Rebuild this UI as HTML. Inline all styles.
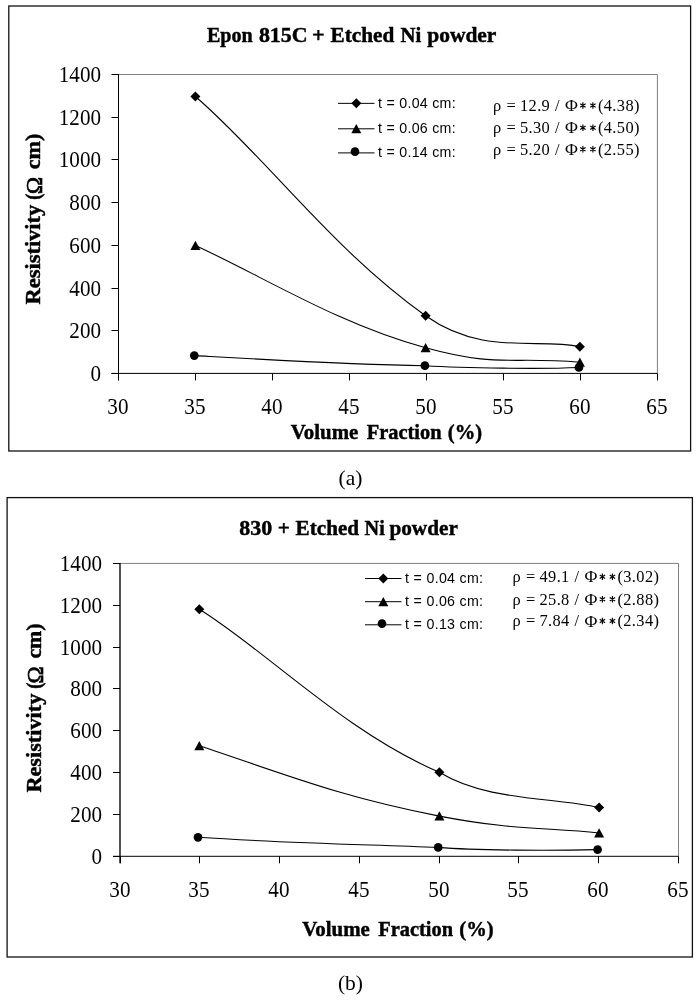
<!DOCTYPE html>
<html><head><meta charset="utf-8"><title>Resistivity vs Volume Fraction</title>
<style>
html,body{margin:0;padding:0;background:#fff;}
body{width:699px;height:1000px;overflow:hidden;font-family:"Liberation Serif",serif;}
svg{display:block;filter:grayscale(1)}
text{fill:#000}
</style></head><body>
<svg width="699" height="1000" viewBox="0 0 699 1000">
<rect width="699" height="1000" fill="#fff"/>
<rect x="8.8" y="6.0" width="681.8000000000001" height="445.0" fill="#fff" stroke="#111" stroke-width="1.3"/>
<path d="M118.5,74.5 H657.4 V373.4" fill="none" stroke="#808080" stroke-width="1"/>
<path d="M118.5,74.0 V380.4" fill="none" stroke="#000" stroke-width="1"/>
<path d="M111.5,373.4 H657.4" fill="none" stroke="#000" stroke-width="1"/>
<path d="M111.5,373.50 H118.5" stroke="#000" stroke-width="1"/>
<text transform="translate(101,380.90) scale(1,1.05)" text-anchor="end" font-family="Liberation Serif, serif" font-size="21.1">0</text>
<path d="M111.5,330.50 H118.5" stroke="#000" stroke-width="1"/>
<text transform="translate(101,337.90) scale(1,1.05)" text-anchor="end" font-family="Liberation Serif, serif" font-size="21.1">200</text>
<path d="M111.5,288.50 H118.5" stroke="#000" stroke-width="1"/>
<text transform="translate(101,295.90) scale(1,1.05)" text-anchor="end" font-family="Liberation Serif, serif" font-size="21.1">400</text>
<path d="M111.5,245.50 H118.5" stroke="#000" stroke-width="1"/>
<text transform="translate(101,252.90) scale(1,1.05)" text-anchor="end" font-family="Liberation Serif, serif" font-size="21.1">600</text>
<path d="M111.5,202.50 H118.5" stroke="#000" stroke-width="1"/>
<text transform="translate(101,209.90) scale(1,1.05)" text-anchor="end" font-family="Liberation Serif, serif" font-size="21.1">800</text>
<path d="M111.5,159.50 H118.5" stroke="#000" stroke-width="1"/>
<text transform="translate(101,166.90) scale(1,1.05)" text-anchor="end" font-family="Liberation Serif, serif" font-size="21.1">1000</text>
<path d="M111.5,117.50 H118.5" stroke="#000" stroke-width="1"/>
<text transform="translate(101,124.90) scale(1,1.05)" text-anchor="end" font-family="Liberation Serif, serif" font-size="21.1">1200</text>
<path d="M111.5,74.50 H118.5" stroke="#000" stroke-width="1"/>
<text transform="translate(101,81.90) scale(1,1.05)" text-anchor="end" font-family="Liberation Serif, serif" font-size="21.1">1400</text>
<path d="M118.50,373.4 V380.4" stroke="#000" stroke-width="1"/>
<text transform="translate(117.90,414) scale(1,1.05)" text-anchor="middle" font-family="Liberation Serif, serif" font-size="21.1">30</text>
<path d="M195.50,373.4 V380.4" stroke="#000" stroke-width="1"/>
<text transform="translate(194.90,414) scale(1,1.05)" text-anchor="middle" font-family="Liberation Serif, serif" font-size="21.1">35</text>
<path d="M272.50,373.4 V380.4" stroke="#000" stroke-width="1"/>
<text transform="translate(271.90,414) scale(1,1.05)" text-anchor="middle" font-family="Liberation Serif, serif" font-size="21.1">40</text>
<path d="M349.50,373.4 V380.4" stroke="#000" stroke-width="1"/>
<text transform="translate(348.90,414) scale(1,1.05)" text-anchor="middle" font-family="Liberation Serif, serif" font-size="21.1">45</text>
<path d="M426.50,373.4 V380.4" stroke="#000" stroke-width="1"/>
<text transform="translate(425.90,414) scale(1,1.05)" text-anchor="middle" font-family="Liberation Serif, serif" font-size="21.1">50</text>
<path d="M503.50,373.4 V380.4" stroke="#000" stroke-width="1"/>
<text transform="translate(502.90,414) scale(1,1.05)" text-anchor="middle" font-family="Liberation Serif, serif" font-size="21.1">55</text>
<path d="M580.50,373.4 V380.4" stroke="#000" stroke-width="1"/>
<text transform="translate(579.90,414) scale(1,1.05)" text-anchor="middle" font-family="Liberation Serif, serif" font-size="21.1">60</text>
<path d="M657.50,373.4 V380.4" stroke="#000" stroke-width="1"/>
<text transform="translate(656.90,414) scale(1,1.05)" text-anchor="middle" font-family="Liberation Serif, serif" font-size="21.1">65</text>
<text transform="translate(207.00,42) scale(1,1.0)" font-family="Liberation Serif, serif" font-weight="bold" stroke="#000" stroke-width="0.45" font-size="21.3" textLength="45.70" lengthAdjust="spacingAndGlyphs">Epon</text>
<text transform="translate(258.90,42) scale(1,1.0)" font-family="Liberation Serif, serif" font-weight="bold" stroke="#000" stroke-width="0.45" font-size="21.3" textLength="48.70" lengthAdjust="spacingAndGlyphs">815C</text>
<text transform="translate(312.10,42) scale(1,1.0)" font-family="Liberation Serif, serif" font-weight="bold" stroke="#000" stroke-width="0.45" font-size="21.3" textLength="12.70" lengthAdjust="spacingAndGlyphs">+</text>
<text transform="translate(330.60,42) scale(1,1.0)" font-family="Liberation Serif, serif" font-weight="bold" stroke="#000" stroke-width="0.45" font-size="21.3" textLength="63.70" lengthAdjust="spacingAndGlyphs">Etched</text>
<text transform="translate(400.60,42) scale(1,1.0)" font-family="Liberation Serif, serif" font-weight="bold" stroke="#000" stroke-width="0.45" font-size="21.3" textLength="20.70" lengthAdjust="spacingAndGlyphs">Ni</text>
<text transform="translate(427.20,42) scale(1,1.0)" font-family="Liberation Serif, serif" font-weight="bold" stroke="#000" stroke-width="0.45" font-size="21.3" textLength="69.20" lengthAdjust="spacingAndGlyphs">powder</text>
<text transform="translate(290.70,438.5) scale(1,1.0)" font-family="Liberation Serif, serif" font-weight="bold" stroke="#000" stroke-width="0.45" font-size="21.3" textLength="67.60" lengthAdjust="spacingAndGlyphs">Volume</text>
<text transform="translate(366.70,438.5) scale(1,1.0)" font-family="Liberation Serif, serif" font-weight="bold" stroke="#000" stroke-width="0.45" font-size="21.3" textLength="74.80" lengthAdjust="spacingAndGlyphs">Fraction</text>
<text transform="translate(447.80,438.5) scale(1,1.0)" font-family="Liberation Serif, serif" font-weight="bold" stroke="#000" stroke-width="0.45" font-size="21.3" textLength="34.30" lengthAdjust="spacingAndGlyphs">(%)</text>
<text transform="translate(40,304.50) rotate(-90) scale(1,1.0)" font-family="Liberation Serif, serif" font-weight="bold" stroke="#000" stroke-width="0.45" font-size="21.3" textLength="99.80" lengthAdjust="spacingAndGlyphs">Resistivity</text>
<text transform="translate(40,199.70) rotate(-90) scale(1,1.0)" font-family="Liberation Serif, serif" font-weight="bold" stroke="#000" stroke-width="0.45" font-size="21.3" textLength="6.20" lengthAdjust="spacingAndGlyphs">(</text>
<text transform="translate(40,169.30) rotate(-90) scale(1,1.0)" font-family="Liberation Serif, serif" font-weight="bold" stroke="#000" stroke-width="0.45" font-size="21.3" textLength="35.60" lengthAdjust="spacingAndGlyphs">cm)</text>
<text transform="translate(41.9,194.30) rotate(-90)" font-family="Liberation Serif, serif" font-size="24" textLength="17.40" lengthAdjust="spacingAndGlyphs" stroke="#000" stroke-width="0.7">Ω</text>
<path d="M195.4,96.5 C266.90,158.26 330.48,247.88 425.6,315.8 C482.21,356.22 537.83,337.58 579.9,346.7" fill="none" stroke="#000" stroke-width="1.1"/>
<path d="M195.4,245.5 C264.02,276.89 337.47,323.79 425.6,347.8 C498.45,367.77 509.26,356.29 579.9,362.3" fill="none" stroke="#000" stroke-width="1.1"/>
<path d="M194.3,355.6 C271.17,359.95 348.03,364.55 424.9,365.7 C463.98,368.20 542.37,369.18 578.9,367.5" fill="none" stroke="#000" stroke-width="1.1"/>
<path d="M190.4,96.5 L195.4,91.5 L200.4,96.5 L195.4,101.5Z" fill="#000"/>
<path d="M420.6,315.8 L425.6,310.8 L430.6,315.8 L425.6,320.8Z" fill="#000"/>
<path d="M574.9,346.7 L579.9,341.7 L584.9,346.7 L579.9,351.7Z" fill="#000"/>
<path d="M190.40,250.00 L195.40,240.70 L200.40,250.00Z" fill="#000"/>
<path d="M420.60,352.30 L425.60,343.00 L430.60,352.30Z" fill="#000"/>
<path d="M574.90,366.80 L579.90,357.50 L584.90,366.80Z" fill="#000"/>
<circle cx="194.3" cy="355.6" r="4.35" fill="#000"/>
<circle cx="424.9" cy="365.7" r="4.35" fill="#000"/>
<circle cx="578.9" cy="367.5" r="4.35" fill="#000"/>
<path d="M338,103.35 H374.5" stroke="#000" stroke-width="1"/>
<path d="M351.3,103.35 L356.3,98.35 L361.3,103.35 L356.3,108.35Z" fill="#000"/>
<text x="378.1" y="107.5" font-family="Liberation Sans, sans-serif" font-size="14.2" textLength="77.5" lengthAdjust="spacing">t = 0.04 cm:</text>
<path d="M338,128.8 H374.5" stroke="#000" stroke-width="1"/>
<path d="M351.30,133.30 L356.30,124.00 L361.30,133.30Z" fill="#000"/>
<text x="378.1" y="133" font-family="Liberation Sans, sans-serif" font-size="14.2" textLength="77.5" lengthAdjust="spacing">t = 0.06 cm:</text>
<path d="M338,152.9 H374.5" stroke="#000" stroke-width="1"/>
<circle cx="355.0" cy="151.70000000000002" r="4.35" fill="#000"/>
<text x="378.1" y="156.5" font-family="Liberation Sans, sans-serif" font-size="14.2" textLength="77.5" lengthAdjust="spacing">t = 0.14 cm:</text>
<g font-family="Liberation Serif, serif" font-size="16.4">
<text x="493.00" y="110.75">ρ</text>
<text x="506.60" y="110.75">=</text>
<text x="520.00" y="110.75" textLength="29.8" lengthAdjust="spacing">12.9</text>
<text x="555.00" y="110.75">/</text>
<text x="564.90" y="111.05" font-size="17.6">Φ</text>
<text x="597.90" y="110.75" textLength="41.6" lengthAdjust="spacing">(4.38)</text>
</g>
<path d="M582.90,102.25 L582.90,108.65 M580.22,103.71 L585.58,107.19 M585.58,103.71 L580.22,107.19 " stroke="#000" stroke-width="1.15" fill="none"/>
<path d="M592.90,102.25 L592.90,108.65 M590.22,103.71 L595.58,107.19 M595.58,103.71 L590.22,107.19 " stroke="#000" stroke-width="1.15" fill="none"/>
<g font-family="Liberation Serif, serif" font-size="16.4">
<text x="493.00" y="133">ρ</text>
<text x="506.60" y="133">=</text>
<text x="520.00" y="133" textLength="29.8" lengthAdjust="spacing">5.30</text>
<text x="555.00" y="133">/</text>
<text x="564.90" y="133.3" font-size="17.6">Φ</text>
<text x="597.90" y="133" textLength="41.6" lengthAdjust="spacing">(4.50)</text>
</g>
<path d="M582.90,124.50 L582.90,130.90 M580.22,125.96 L585.58,129.44 M585.58,125.96 L580.22,129.44 " stroke="#000" stroke-width="1.15" fill="none"/>
<path d="M592.90,124.50 L592.90,130.90 M590.22,125.96 L595.58,129.44 M595.58,125.96 L590.22,129.44 " stroke="#000" stroke-width="1.15" fill="none"/>
<g font-family="Liberation Serif, serif" font-size="16.4">
<text x="493.00" y="154.5">ρ</text>
<text x="506.60" y="154.5">=</text>
<text x="520.00" y="154.5" textLength="29.8" lengthAdjust="spacing">5.20</text>
<text x="555.00" y="154.5">/</text>
<text x="564.90" y="154.8" font-size="17.6">Φ</text>
<text x="597.90" y="154.5" textLength="41.6" lengthAdjust="spacing">(2.55)</text>
</g>
<path d="M582.90,146.00 L582.90,152.40 M580.22,147.46 L585.58,150.94 M585.58,147.46 L580.22,150.94 " stroke="#000" stroke-width="1.15" fill="none"/>
<path d="M592.90,146.00 L592.90,152.40 M590.22,147.46 L595.58,150.94 M595.58,147.46 L590.22,150.94 " stroke="#000" stroke-width="1.15" fill="none"/>
<text x="350.5" y="484.6" text-anchor="middle" font-family="Liberation Serif, serif" font-size="21.5">(a)</text>
<rect x="7.1" y="497.6" width="685.3" height="459.4" fill="#fff" stroke="#111" stroke-width="1.3"/>
<path d="M120.0,563.4 H678.5 V856.3" fill="none" stroke="#808080" stroke-width="1"/>
<path d="M120.0,562.9 V863.3" fill="none" stroke="#000" stroke-width="1.35"/>
<path d="M113.0,856.3 H678.5" fill="none" stroke="#000" stroke-width="1"/>
<path d="M113.0,856.50 H120.0" stroke="#000" stroke-width="1"/>
<text transform="translate(102,863.90) scale(1,1.05)" text-anchor="end" font-family="Liberation Serif, serif" font-size="21.1">0</text>
<path d="M113.0,814.50 H120.0" stroke="#000" stroke-width="1"/>
<text transform="translate(102,821.90) scale(1,1.05)" text-anchor="end" font-family="Liberation Serif, serif" font-size="21.1">200</text>
<path d="M113.0,772.50 H120.0" stroke="#000" stroke-width="1"/>
<text transform="translate(102,779.90) scale(1,1.05)" text-anchor="end" font-family="Liberation Serif, serif" font-size="21.1">400</text>
<path d="M113.0,730.50 H120.0" stroke="#000" stroke-width="1"/>
<text transform="translate(102,737.90) scale(1,1.05)" text-anchor="end" font-family="Liberation Serif, serif" font-size="21.1">600</text>
<path d="M113.0,688.50 H120.0" stroke="#000" stroke-width="1"/>
<text transform="translate(102,695.90) scale(1,1.05)" text-anchor="end" font-family="Liberation Serif, serif" font-size="21.1">800</text>
<path d="M113.0,647.50 H120.0" stroke="#000" stroke-width="1"/>
<text transform="translate(102,654.90) scale(1,1.05)" text-anchor="end" font-family="Liberation Serif, serif" font-size="21.1">1000</text>
<path d="M113.0,605.50 H120.0" stroke="#000" stroke-width="1"/>
<text transform="translate(102,612.90) scale(1,1.05)" text-anchor="end" font-family="Liberation Serif, serif" font-size="21.1">1200</text>
<path d="M113.0,563.50 H120.0" stroke="#000" stroke-width="1"/>
<text transform="translate(102,570.90) scale(1,1.05)" text-anchor="end" font-family="Liberation Serif, serif" font-size="21.1">1400</text>
<path d="M120.50,856.3 V863.3" stroke="#000" stroke-width="1"/>
<text transform="translate(119.90,896.5) scale(1,1.05)" text-anchor="middle" font-family="Liberation Serif, serif" font-size="21.1">30</text>
<path d="M199.50,856.3 V863.3" stroke="#000" stroke-width="1"/>
<text transform="translate(198.90,896.5) scale(1,1.05)" text-anchor="middle" font-family="Liberation Serif, serif" font-size="21.1">35</text>
<path d="M279.50,856.3 V863.3" stroke="#000" stroke-width="1"/>
<text transform="translate(278.90,896.5) scale(1,1.05)" text-anchor="middle" font-family="Liberation Serif, serif" font-size="21.1">40</text>
<path d="M359.50,856.3 V863.3" stroke="#000" stroke-width="1"/>
<text transform="translate(358.90,896.5) scale(1,1.05)" text-anchor="middle" font-family="Liberation Serif, serif" font-size="21.1">45</text>
<path d="M439.50,856.3 V863.3" stroke="#000" stroke-width="1"/>
<text transform="translate(438.90,896.5) scale(1,1.05)" text-anchor="middle" font-family="Liberation Serif, serif" font-size="21.1">50</text>
<path d="M518.50,856.3 V863.3" stroke="#000" stroke-width="1"/>
<text transform="translate(517.90,896.5) scale(1,1.05)" text-anchor="middle" font-family="Liberation Serif, serif" font-size="21.1">55</text>
<path d="M598.50,856.3 V863.3" stroke="#000" stroke-width="1"/>
<text transform="translate(597.90,896.5) scale(1,1.05)" text-anchor="middle" font-family="Liberation Serif, serif" font-size="21.1">60</text>
<path d="M678.50,856.3 V863.3" stroke="#000" stroke-width="1"/>
<text transform="translate(677.90,896.5) scale(1,1.05)" text-anchor="middle" font-family="Liberation Serif, serif" font-size="21.1">65</text>
<text transform="translate(239.30,534.7) scale(1,1.0)" font-family="Liberation Serif, serif" font-weight="bold" stroke="#000" stroke-width="0.45" font-size="21.3" textLength="32.90" lengthAdjust="spacingAndGlyphs">830</text>
<text transform="translate(277.80,534.7) scale(1,1.0)" font-family="Liberation Serif, serif" font-weight="bold" stroke="#000" stroke-width="0.45" font-size="21.3" textLength="12.10" lengthAdjust="spacingAndGlyphs">+</text>
<text transform="translate(295.60,534.7) scale(1,1.0)" font-family="Liberation Serif, serif" font-weight="bold" stroke="#000" stroke-width="0.45" font-size="21.3" textLength="63.50" lengthAdjust="spacingAndGlyphs">Etched</text>
<text transform="translate(364.60,534.7) scale(1,1.0)" font-family="Liberation Serif, serif" font-weight="bold" stroke="#000" stroke-width="0.45" font-size="21.3" textLength="20.20" lengthAdjust="spacingAndGlyphs">Ni</text>
<text transform="translate(389.40,534.7) scale(1,1.0)" font-family="Liberation Serif, serif" font-weight="bold" stroke="#000" stroke-width="0.45" font-size="21.3" textLength="68.50" lengthAdjust="spacingAndGlyphs">powder</text>
<text transform="translate(302.20,936) scale(1,1.0)" font-family="Liberation Serif, serif" font-weight="bold" stroke="#000" stroke-width="0.45" font-size="21.3" textLength="67.60" lengthAdjust="spacingAndGlyphs">Volume</text>
<text transform="translate(378.20,936) scale(1,1.0)" font-family="Liberation Serif, serif" font-weight="bold" stroke="#000" stroke-width="0.45" font-size="21.3" textLength="74.80" lengthAdjust="spacingAndGlyphs">Fraction</text>
<text transform="translate(459.30,936) scale(1,1.0)" font-family="Liberation Serif, serif" font-weight="bold" stroke="#000" stroke-width="0.45" font-size="21.3" textLength="34.30" lengthAdjust="spacingAndGlyphs">(%)</text>
<text transform="translate(41.2,792.60) rotate(-90) scale(1,1.0)" font-family="Liberation Serif, serif" font-weight="bold" stroke="#000" stroke-width="0.45" font-size="21.3" textLength="98.91" lengthAdjust="spacingAndGlyphs">Resistivity</text>
<text transform="translate(41.2,688.74) rotate(-90) scale(1,1.0)" font-family="Liberation Serif, serif" font-weight="bold" stroke="#000" stroke-width="0.45" font-size="21.3" textLength="6.20" lengthAdjust="spacingAndGlyphs">(</text>
<text transform="translate(41.2,658.62) rotate(-90) scale(1,1.0)" font-family="Liberation Serif, serif" font-weight="bold" stroke="#000" stroke-width="0.45" font-size="21.3" textLength="35.29" lengthAdjust="spacingAndGlyphs">cm)</text>
<text transform="translate(43.1,683.39) rotate(-90)" font-family="Liberation Serif, serif" font-size="24" textLength="17.24" lengthAdjust="spacingAndGlyphs" stroke="#000" stroke-width="0.7">Ω</text>
<path d="M199.3,609.3 C265.16,649.78 344.26,731.73 439.4,772.3 C486.47,801.26 552.77,797.00 599.1,807.6" fill="none" stroke="#000" stroke-width="1.1"/>
<path d="M199.3,745.8 C290.21,776.00 340.79,796.95 439.4,816.1 C512.37,830.27 546.16,827.44 599.1,833" fill="none" stroke="#000" stroke-width="1.1"/>
<path d="M198,837.3 C278.07,842.73 358.13,844.29 438.2,847.4 C476.32,850.61 552.29,850.80 597.6,849.6" fill="none" stroke="#000" stroke-width="1.1"/>
<path d="M194.3,609.3 L199.3,604.3 L204.3,609.3 L199.3,614.3Z" fill="#000"/>
<path d="M434.4,772.3 L439.4,767.3 L444.4,772.3 L439.4,777.3Z" fill="#000"/>
<path d="M594.1,807.6 L599.1,802.6 L604.1,807.6 L599.1,812.6Z" fill="#000"/>
<path d="M194.30,750.30 L199.30,741.00 L204.30,750.30Z" fill="#000"/>
<path d="M434.40,820.60 L439.40,811.30 L444.40,820.60Z" fill="#000"/>
<path d="M594.10,837.50 L599.10,828.20 L604.10,837.50Z" fill="#000"/>
<circle cx="198" cy="837.3" r="4.35" fill="#000"/>
<circle cx="438.2" cy="847.4" r="4.35" fill="#000"/>
<circle cx="597.6" cy="849.6" r="4.35" fill="#000"/>
<path d="M365,578.5 H401.5" stroke="#000" stroke-width="1"/>
<path d="M378.3,578.5 L383.3,573.5 L388.3,578.5 L383.3,583.5Z" fill="#000"/>
<text x="405.1" y="582.5" font-family="Liberation Sans, sans-serif" font-size="14.2" textLength="77.89999999999998" lengthAdjust="spacing">t = 0.04 cm:</text>
<path d="M365,601.7 H401.5" stroke="#000" stroke-width="1"/>
<path d="M378.30,606.20 L383.30,596.90 L388.30,606.20Z" fill="#000"/>
<text x="405.1" y="606.25" font-family="Liberation Sans, sans-serif" font-size="14.2" textLength="77.89999999999998" lengthAdjust="spacing">t = 0.06 cm:</text>
<path d="M365,624.8 H401.5" stroke="#000" stroke-width="1"/>
<circle cx="382.0" cy="623.5999999999999" r="4.35" fill="#000"/>
<text x="405.1" y="628.75" font-family="Liberation Sans, sans-serif" font-size="14.2" textLength="77.89999999999998" lengthAdjust="spacing">t = 0.13 cm:</text>
<g font-family="Liberation Serif, serif" font-size="16.4">
<text x="512.50" y="582">ρ</text>
<text x="526.10" y="582">=</text>
<text x="539.50" y="582" textLength="29.8" lengthAdjust="spacing">49.1</text>
<text x="574.50" y="582">/</text>
<text x="584.40" y="582.3" font-size="17.6">Φ</text>
<text x="617.40" y="582" textLength="41.6" lengthAdjust="spacing">(3.02)</text>
</g>
<path d="M602.40,573.50 L602.40,579.90 M599.72,574.96 L605.08,578.44 M605.08,574.96 L599.72,578.44 " stroke="#000" stroke-width="1.15" fill="none"/>
<path d="M612.40,573.50 L612.40,579.90 M609.72,574.96 L615.08,578.44 M615.08,574.96 L609.72,578.44 " stroke="#000" stroke-width="1.15" fill="none"/>
<g font-family="Liberation Serif, serif" font-size="16.4">
<text x="512.50" y="604.5">ρ</text>
<text x="526.10" y="604.5">=</text>
<text x="539.50" y="604.5" textLength="29.8" lengthAdjust="spacing">25.8</text>
<text x="574.50" y="604.5">/</text>
<text x="584.40" y="604.8" font-size="17.6">Φ</text>
<text x="617.40" y="604.5" textLength="41.6" lengthAdjust="spacing">(2.88)</text>
</g>
<path d="M602.40,596.00 L602.40,602.40 M599.72,597.46 L605.08,600.94 M605.08,597.46 L599.72,600.94 " stroke="#000" stroke-width="1.15" fill="none"/>
<path d="M612.40,596.00 L612.40,602.40 M609.72,597.46 L615.08,600.94 M615.08,597.46 L609.72,600.94 " stroke="#000" stroke-width="1.15" fill="none"/>
<g font-family="Liberation Serif, serif" font-size="16.4">
<text x="512.50" y="626.25">ρ</text>
<text x="526.10" y="626.25">=</text>
<text x="539.50" y="626.25" textLength="29.8" lengthAdjust="spacing">7.84</text>
<text x="574.50" y="626.25">/</text>
<text x="584.40" y="626.55" font-size="17.6">Φ</text>
<text x="617.40" y="626.25" textLength="41.6" lengthAdjust="spacing">(2.34)</text>
</g>
<path d="M602.40,617.75 L602.40,624.15 M599.72,619.21 L605.08,622.69 M605.08,619.21 L599.72,622.69 " stroke="#000" stroke-width="1.15" fill="none"/>
<path d="M612.40,617.75 L612.40,624.15 M609.72,619.21 L615.08,622.69 M615.08,619.21 L609.72,622.69 " stroke="#000" stroke-width="1.15" fill="none"/>
<text x="350.5" y="990" text-anchor="middle" font-family="Liberation Serif, serif" font-size="21.5">(b)</text>
</svg>
</body></html>
